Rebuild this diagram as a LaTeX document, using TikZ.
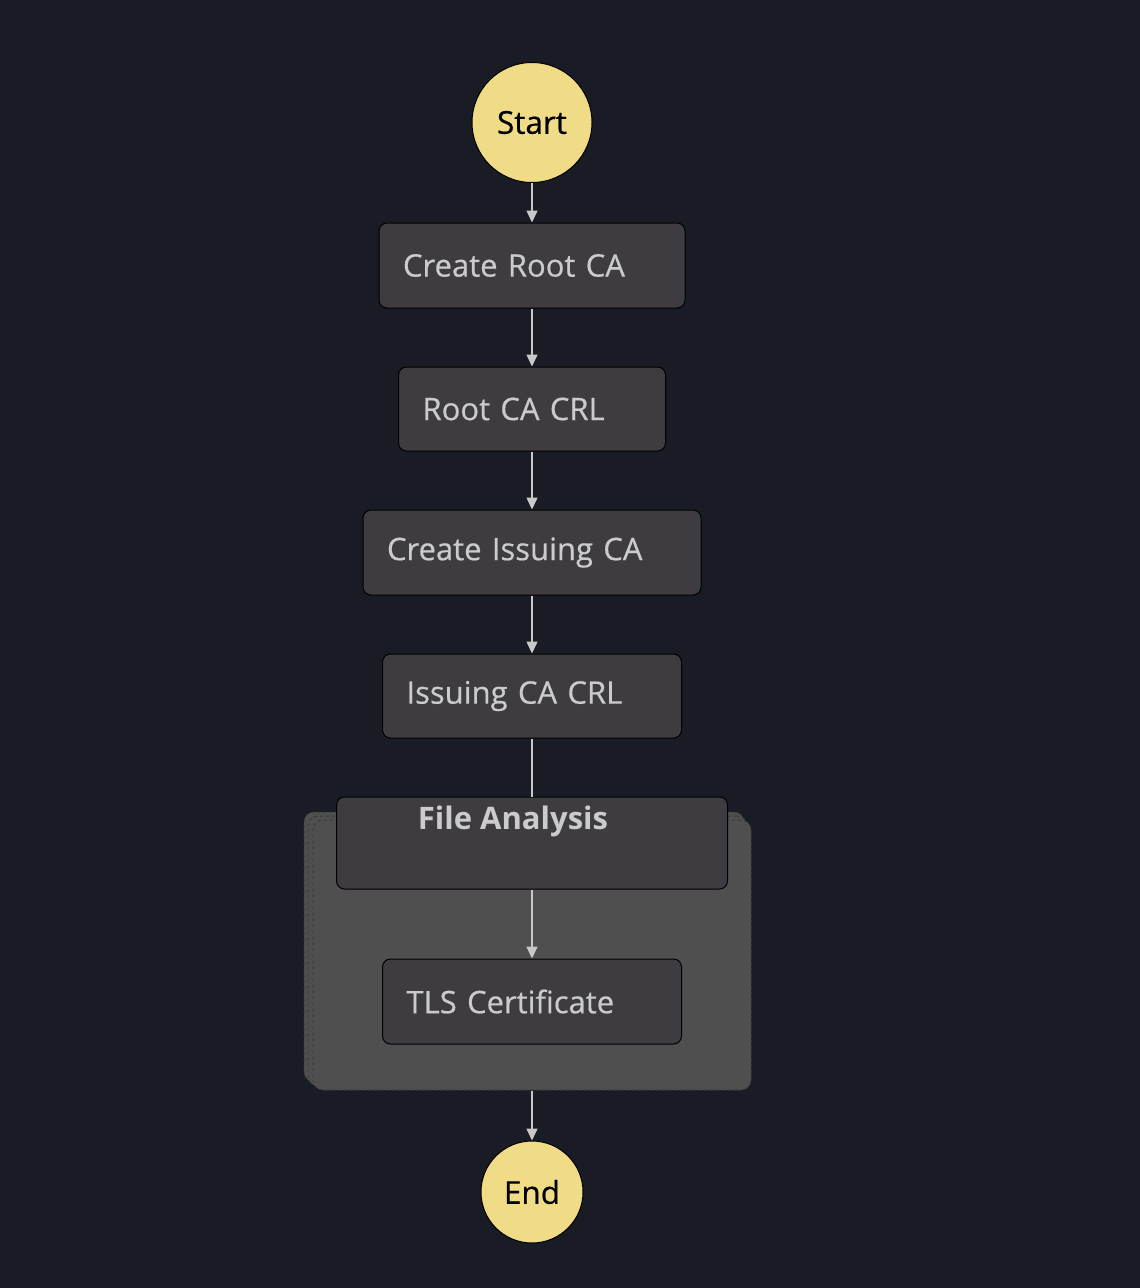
\documentclass[tikz,border=0pt]{standalone}
\usepackage{fontspec}
\setmainfont{Open Sans}
\newfontfamily\lblfont[FakeBold=0.5]{Open Sans}
\usetikzlibrary{arrows.meta}
\definecolor{bg}{HTML}{191C25}
\definecolor{boxfill}{HTML}{3E3C41}
\definecolor{grpfill}{HTML}{4F4F4F}
\definecolor{txt}{HTML}{CBCBCF}
\definecolor{conncol}{HTML}{C8C8C8}
\definecolor{termfill}{HTML}{F0DC86}
\definecolor{grpline}{HTML}{3A3A3A}
\tikzset{
  term/.style={circle, draw=black, line width=1pt, fill=termfill, text=black, font=\lblfont\fontsize{31.5}{34}\selectfont, inner sep=0pt},
  statebox/.style={draw=black, line width=1pt, fill=boxfill, rounded corners=8pt, text=txt, font=\lblfont\fontsize{31}{34}\selectfont, align=left, inner xsep=24pt, inner ysep=0pt},
  layer/.style={draw=grpline, dashed, line width=1pt, fill=grpfill, rounded corners=10pt, inner sep=0pt},
  conn/.style={draw=conncol, line width=1.5pt, -{Triangle[width=11pt,length=12pt]}},
  plain/.style={draw=conncol, line width=1.5pt},
}
\begin{document}
\begin{tikzpicture}[x=1pt,y=-1pt]
\fill[bg] (0,0) rectangle (1140,1288);
\useasboundingbox (0,0) rectangle (1140,1288);
% group layers
\node[layer, minimum width=440pt, minimum height=270pt] (layerA) at (524,947) {};
\node[layer, minimum width=439pt, minimum height=270pt] (layerB) at (527.5,951) {};
\node[layer, minimum width=438pt, minimum height=270pt] (group) at (532,955) {};
% start / end
\node[term, minimum size=120pt] (start) at (532,122.5) {Start};
\node[term, minimum size=102pt] (end) at (532,1192) {End};
% states
\node[statebox, minimum width=306pt, minimum height=85pt, text width=258pt] (croot) at (532,265.5) {Create Root CA};
\node[statebox, minimum width=267pt, minimum height=84pt, text width=219pt] (rcrl) at (532,409) {Root CA CRL};
\node[statebox, minimum width=338pt, minimum height=85pt, text width=290pt] (ciss) at (532,552.5) {Create Issuing CA};
\node[statebox, minimum width=299pt, minimum height=84pt, text width=251pt] (icrl) at (532,696) {Issuing CA CRL};
\node[statebox, minimum width=391pt, minimum height=92pt] (fa) at (532,843) {};
\node[text=txt, font=\fontsize{31}{34}\selectfont\bfseries, anchor=center] (fatitle) at (513,821) {File Analysis};
\node[statebox, minimum width=299pt, minimum height=85pt, text width=251pt] (tls) at (532,1001.5) {TLS Certificate};
% connectors
\draw[conn] (start) -- (croot);
\draw[conn] (croot) -- (rcrl);
\draw[conn] (rcrl) -- (ciss);
\draw[conn] (ciss) -- (icrl);
\draw[plain] (icrl) -- (fa);
\draw[conn] (fa) -- (tls);
\draw[conn] (group) -- (end);
\end{tikzpicture}
\end{document}
